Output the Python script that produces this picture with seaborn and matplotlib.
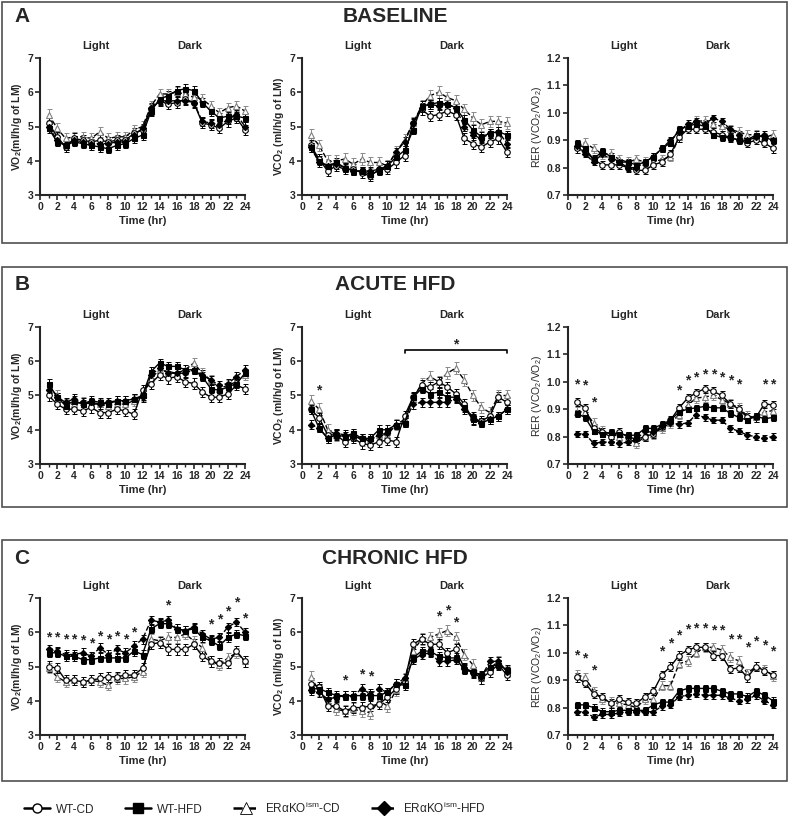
import numpy as np
import pandas as pd
import matplotlib
matplotlib.use("Agg")
import matplotlib.pyplot as plt
import seaborn as sns
from matplotlib.lines import Line2D
from matplotlib.patches import Rectangle

# hours 1..24
hours = list(range(1, 25))
groups = ["WT-CD", "WT-HFD", "ERαKO-CD", "ERαKO-HFD"]

# ---- BASELINE ----
vo2_base_wt_cd = [5.1, 4.7, 4.4, 4.65, 4.6, 4.55, 4.6, 4.55, 4.6, 4.6, 4.8, 4.9, 5.5, 5.75, 5.65, 5.7, 5.8, 5.7, 5.1, 5.05, 4.95, 5.15, 5.25, 4.9]
vo2_base_wt_hfd = [4.95, 4.55, 4.45, 4.55, 4.5, 4.45, 4.4, 4.35, 4.45, 4.5, 4.65, 4.75, 5.45, 5.8, 5.9, 6.05, 6.1, 6.05, 5.7, 5.45, 5.25, 5.3, 5.3, 5.25]
vo2_base_ko_cd = [5.35, 4.95, 4.65, 4.7, 4.7, 4.65, 4.85, 4.65, 4.7, 4.7, 4.9, 5.0, 5.6, 5.95, 5.95, 6.0, 5.95, 5.85, 5.8, 5.6, 5.4, 5.55, 5.6, 5.45]
vo2_base_ko_hfd = [5.0, 4.6, 4.45, 4.6, 4.55, 4.5, 4.5, 4.5, 4.55, 4.55, 4.75, 4.95, 5.55, 5.75, 5.75, 5.75, 5.75, 5.7, 5.15, 5.1, 5.05, 5.2, 5.35, 5.0]

vco2_base_wt_cd = [4.45, 4.05, 3.7, 3.85, 3.75, 3.75, 3.65, 3.55, 3.75, 3.75, 3.95, 4.15, 5.1, 5.5, 5.3, 5.35, 5.45, 5.35, 4.65, 4.5, 4.4, 4.55, 4.65, 4.25]
vco2_base_wt_hfd = [4.4, 4.0, 3.85, 3.95, 3.8, 3.7, 3.7, 3.6, 3.7, 3.85, 4.1, 4.3, 4.9, 5.6, 5.65, 5.7, 5.65, 5.55, 5.2, 4.9, 4.7, 4.8, 4.85, 4.75]
vco2_base_ko_cd = [4.75, 4.45, 4.0, 4.0, 4.05, 3.9, 4.05, 3.95, 3.95, 3.85, 4.25, 4.6, 5.1, 5.6, 5.9, 6.0, 5.85, 5.75, 5.5, 5.25, 5.05, 5.15, 5.15, 5.1]
vco2_base_ko_hfd = [4.4, 3.95, 3.85, 3.9, 3.8, 3.7, 3.7, 3.7, 3.75, 3.85, 4.25, 4.55, 5.1, 5.55, 5.65, 5.6, 5.65, 5.55, 5.0, 4.75, 4.65, 4.8, 4.85, 4.5]

rer_base_wt_cd = [0.87, 0.86, 0.83, 0.81, 0.81, 0.81, 0.80, 0.79, 0.79, 0.81, 0.82, 0.85, 0.91, 0.94, 0.94, 0.94, 0.93, 0.92, 0.91, 0.90, 0.89, 0.90, 0.89, 0.87]
rer_base_wt_hfd = [0.89, 0.87, 0.83, 0.86, 0.84, 0.82, 0.82, 0.81, 0.82, 0.84, 0.87, 0.89, 0.94, 0.95, 0.96, 0.95, 0.92, 0.91, 0.91, 0.90, 0.90, 0.92, 0.91, 0.90]
rer_base_ko_cd = [0.88, 0.89, 0.87, 0.85, 0.85, 0.83, 0.82, 0.83, 0.82, 0.82, 0.83, 0.84, 0.91, 0.95, 0.97, 0.97, 0.96, 0.95, 0.94, 0.93, 0.92, 0.92, 0.91, 0.92]
rer_base_ko_hfd = [0.88, 0.85, 0.82, 0.85, 0.83, 0.82, 0.80, 0.80, 0.82, 0.84, 0.87, 0.90, 0.93, 0.96, 0.97, 0.96, 0.98, 0.97, 0.94, 0.92, 0.90, 0.91, 0.92, 0.90]

# ---- ACUTE HFD ----
vo2_acute_wt_cd = [5.0, 4.75, 4.6, 4.6, 4.55, 4.65, 4.5, 4.5, 4.6, 4.55, 4.45, 5.15, 5.35, 5.6, 5.5, 5.55, 5.4, 5.35, 5.1, 4.95, 4.95, 5.05, 5.3, 5.2]
vo2_acute_wt_hfd = [5.35, 4.95, 4.7, 4.85, 4.75, 4.85, 4.8, 4.75, 4.85, 4.85, 4.9, 5.0, 5.7, 5.95, 5.85, 5.85, 5.75, 5.75, 5.55, 5.2, 5.15, 5.25, 5.35, 5.65]
vo2_acute_ko_cd = [5.25, 5.0, 4.75, 4.75, 4.8, 4.75, 4.75, 4.7, 4.75, 4.75, 4.85, 5.0, 5.5, 5.75, 5.7, 5.65, 5.75, 5.95, 5.65, 5.45, 5.2, 5.3, 5.4, 5.6]
vo2_acute_ko_hfd = [5.15, 4.95, 4.8, 4.9, 4.8, 4.8, 4.75, 4.8, 4.85, 4.85, 4.9, 4.95, 5.6, 5.8, 5.65, 5.65, 5.65, 5.75, 5.6, 5.45, 5.3, 5.35, 5.55, 5.75]

vco2_acute_wt_cd = [4.6, 4.35, 3.85, 3.85, 3.65, 3.75, 3.6, 3.55, 3.65, 3.7, 3.65, 4.4, 4.95, 5.3, 5.25, 5.4, 5.25, 5.05, 4.75, 4.3, 4.25, 4.4, 4.95, 4.8]
vco2_acute_wt_hfd = [4.6, 4.05, 3.75, 3.85, 3.8, 3.9, 3.75, 3.75, 4.0, 4.0, 4.15, 4.2, 4.95, 5.2, 5.05, 5.1, 4.95, 4.95, 4.65, 4.3, 4.2, 4.3, 4.4, 4.6]
vco2_acute_ko_cd = [4.85, 4.6, 4.0, 3.85, 3.75, 3.85, 3.7, 3.7, 3.85, 3.85, 4.15, 4.3, 4.9, 5.35, 5.55, 5.4, 5.65, 5.8, 5.45, 5.0, 4.65, 4.5, 5.0, 5.0]
vco2_acute_ko_hfd = [4.15, 4.05, 3.75, 3.9, 3.85, 3.8, 3.75, 3.7, 3.85, 3.9, 4.15, 4.2, 4.75, 4.8, 4.8, 4.8, 4.8, 4.9, 4.6, 4.4, 4.2, 4.3, 4.4, 4.6]

rer_acute_wt_cd = [0.925, 0.905, 0.83, 0.815, 0.80, 0.815, 0.80, 0.79, 0.80, 0.81, 0.835, 0.86, 0.905, 0.94, 0.96, 0.975, 0.965, 0.95, 0.92, 0.90, 0.87, 0.87, 0.92, 0.915]
rer_acute_wt_hfd = [0.885, 0.87, 0.82, 0.81, 0.815, 0.81, 0.805, 0.805, 0.83, 0.83, 0.845, 0.86, 0.89, 0.90, 0.905, 0.91, 0.905, 0.905, 0.885, 0.87, 0.86, 0.875, 0.865, 0.87]
rer_acute_ko_cd = [0.89, 0.89, 0.85, 0.82, 0.81, 0.80, 0.795, 0.775, 0.80, 0.81, 0.83, 0.85, 0.88, 0.915, 0.94, 0.945, 0.95, 0.935, 0.92, 0.905, 0.875, 0.87, 0.89, 0.895]
rer_acute_ko_hfd = [0.81, 0.81, 0.775, 0.78, 0.78, 0.775, 0.78, 0.79, 0.82, 0.815, 0.84, 0.85, 0.845, 0.85, 0.88, 0.87, 0.86, 0.86, 0.83, 0.82, 0.805, 0.80, 0.795, 0.80]

# ---- CHRONIC HFD ----
vo2_chronic_wt_cd = [5.0, 4.95, 4.6, 4.6, 4.55, 4.6, 4.65, 4.7, 4.7, 4.75, 4.75, 4.95, 5.65, 5.7, 5.5, 5.5, 5.5, 5.65, 5.3, 5.15, 5.1, 5.1, 5.45, 5.15]
vo2_chronic_wt_hfd = [5.4, 5.4, 5.3, 5.3, 5.2, 5.2, 5.25, 5.25, 5.25, 5.25, 5.45, 5.35, 6.1, 6.25, 6.25, 6.1, 6.05, 6.1, 5.85, 5.75, 5.6, 5.85, 5.95, 5.9]
vo2_chronic_ko_cd = [4.95, 4.7, 4.55, 4.6, 4.55, 4.6, 4.55, 4.45, 4.65, 4.65, 4.7, 4.85, 5.8, 5.75, 5.85, 5.85, 5.95, 5.75, 5.55, 5.15, 5.05, 5.25, 5.4, 5.15]
vo2_chronic_ko_hfd = [5.5, 5.45, 5.35, 5.35, 5.4, 5.3, 5.55, 5.35, 5.5, 5.4, 5.6, 5.8, 6.35, 6.3, 6.35, 6.1, 6.05, 6.15, 5.95, 5.8, 5.85, 6.15, 6.3, 6.0]

vco2_chronic_wt_cd = [4.5, 4.4, 3.85, 3.85, 3.7, 3.8, 3.8, 3.85, 3.9, 4.1, 4.35, 4.55, 5.65, 5.8, 5.65, 5.65, 5.4, 5.5, 4.95, 4.85, 4.65, 4.85, 5.05, 4.75]
vco2_chronic_wt_hfd = [4.35, 4.35, 4.25, 4.15, 4.15, 4.15, 4.15, 4.15, 4.15, 4.25, 4.5, 4.45, 5.25, 5.45, 5.45, 5.3, 5.25, 5.25, 4.9, 4.85, 4.75, 5.0, 5.05, 4.9]
vco2_chronic_ko_cd = [4.7, 4.3, 3.95, 3.75, 3.7, 3.75, 3.7, 3.65, 4.0, 3.85, 4.3, 4.65, 5.45, 5.8, 5.85, 5.95, 6.05, 5.85, 5.35, 5.05, 4.65, 4.95, 5.15, 4.85]
vco2_chronic_ko_hfd = [4.3, 4.25, 4.05, 4.1, 4.15, 4.15, 4.35, 4.2, 4.35, 4.25, 4.5, 4.65, 5.2, 5.35, 5.4, 5.15, 5.15, 5.2, 4.95, 4.8, 4.7, 5.15, 5.15, 4.85]

rer_chronic_wt_cd = [0.91, 0.89, 0.85, 0.84, 0.815, 0.83, 0.82, 0.815, 0.84, 0.86, 0.92, 0.95, 0.99, 1.01, 1.02, 1.02, 0.99, 0.99, 0.94, 0.945, 0.91, 0.95, 0.935, 0.92]
rer_chronic_wt_hfd = [0.81, 0.81, 0.80, 0.785, 0.785, 0.79, 0.79, 0.79, 0.79, 0.81, 0.82, 0.82, 0.86, 0.87, 0.87, 0.87, 0.87, 0.86, 0.85, 0.85, 0.84, 0.86, 0.845, 0.825]
rer_chronic_ko_cd = [0.92, 0.91, 0.86, 0.83, 0.82, 0.815, 0.81, 0.80, 0.83, 0.83, 0.88, 0.88, 0.96, 0.97, 1.0, 1.02, 1.02, 1.01, 0.985, 0.97, 0.925, 0.95, 0.94, 0.915]
rer_chronic_ko_hfd = [0.785, 0.785, 0.765, 0.775, 0.775, 0.78, 0.785, 0.785, 0.785, 0.785, 0.805, 0.81, 0.84, 0.845, 0.85, 0.845, 0.845, 0.845, 0.835, 0.825, 0.83, 0.845, 0.825, 0.81]

# SEM per group (WT-CD, WT-HFD, KO-CD, KO-HFD)
sem_vo2 = [0.15, 0.13, 0.15, 0.13]
sem_vco2 = [0.15, 0.13, 0.17, 0.13]
sem_rer = [0.015, 0.012, 0.017, 0.012]

# significance stars (hour, y)
star_acute_vco2_x = [2, 18]
star_acute_vco2_y = [5.15, 6.5]
star_acute_rer_x = [1, 2, 3, 13, 14, 15, 16, 17, 18, 19, 20, 23, 24]
star_acute_rer_y = [0.99, 0.985, 0.925, 0.97, 1.005, 1.015, 1.025, 1.025, 1.015, 1.005, 0.99, 0.99, 0.99]
star_chronic_vo2_x = [1, 2, 3, 4, 5, 6, 7, 8, 9, 10, 11, 15, 20, 21, 22, 23, 24]
star_chronic_vo2_y = [5.85, 5.85, 5.78, 5.78, 5.76, 5.66, 5.88, 5.78, 5.88, 5.78, 5.98, 6.78, 6.22, 6.38, 6.62, 6.88, 6.4]
star_chronic_vco2_x = [5, 7, 8, 16, 17, 18]
star_chronic_vco2_y = [4.6, 4.78, 4.7, 6.45, 6.65, 6.3]
star_chronic_rer_x = [1, 2, 3, 11, 12, 13, 14, 15, 16, 17, 18, 19, 20, 21, 22, 23, 24]
star_chronic_rer_y = [0.99, 0.98, 0.935, 1.005, 1.035, 1.065, 1.085, 1.09, 1.09, 1.08, 1.08, 1.05, 1.05, 1.02, 1.04, 1.025, 1.005]

W, H = 790, 825

sns.set_style("ticks")
plt.rcParams["font.family"] = ["Liberation Sans", "DejaVu Sans"]
plt.rcParams["mathtext.fontset"] = "custom"
plt.rcParams["mathtext.rm"] = "Liberation Sans"
plt.rcParams["mathtext.bf"] = "Liberation Sans:bold"
plt.rcParams["mathtext.it"] = "Liberation Sans:italic"
plt.rcParams["mathtext.default"] = "regular"

fig = plt.figure(figsize=(W / 100, H / 100), dpi=100)

# series styles
styles = [
    dict(marker="o", mfc="white", mec="black", ls="-", ecol="black", ms=4.0),
    dict(marker="s", mfc="black", mec="black", ls="-", ecol="black", ms=3.6),
    dict(marker="^", mfc="white", mec="#808080", ls="--", ecol="#8a8a8a", ms=4.0),
    dict(marker="D", mfc="black", mec="black", ls="--", ecol="black", ms=3.2),
]


def add_ax(left_px, top_px, w=205, h=137):
    return fig.add_axes([left_px / W, 1 - (top_px + h) / H, w / W, h / H])


def draw_panel(ax, series, sems, kind, stars_x=None, stars_y=None):
    for i in [2, 0, 3, 1]:
        st = styles[i]
        ax.errorbar(hours, series[i], yerr=sems[i], fmt="none", ecolor=st["ecol"],
                    elinewidth=0.7, capsize=1.8, capthick=0.7, zorder=2, clip_on=False)
        sns.lineplot(x=hours, y=series[i], ax=ax, color="black", linestyle=st["ls"],
                     linewidth=1.0, marker=st["marker"], markersize=st["ms"],
                     markerfacecolor=st["mfc"], markeredgecolor=st["mec"],
                     markeredgewidth=0.8, zorder=3, clip_on=False)
    ax.set_xlim(0, 24)
    ax.set_xticks(range(0, 25, 2))
    ax.set_xticks(range(0, 25, 1), minor=True)
    if kind == "rer":
        ax.set_ylim(0.7, 1.2)
        ax.set_yticks([0.7, 0.8, 0.9, 1.0, 1.1, 1.2])
        ax.set_yticklabels(["0.7", "0.8", "0.9", "1.0", "1.1", "1.2"])
        ax.set_ylabel("RER (VCO$_2$/VO$_2$)", fontsize=7.5, labelpad=2)
    else:
        ax.set_ylim(3, 7)
        ax.set_yticks([3, 4, 5, 6, 7])
        if kind == "vo2":
            ax.set_ylabel("VO$_2$(ml/h/g of LM)", fontsize=7.5, fontweight="bold", labelpad=2)
        else:
            ax.set_ylabel("VCO$_2$ (ml/h/g of LM)", fontsize=7.5, fontweight="bold", labelpad=2)
    ax.set_xlabel("Time (hr)", fontsize=8, fontweight="bold", labelpad=3)
    ax.tick_params(axis="both", which="major", length=3.5, width=1.2, labelsize=7.5, pad=1.5)
    ax.tick_params(axis="x", which="minor", length=2, width=1.0)
    for lab in ax.get_xticklabels() + ax.get_yticklabels():
        lab.set_fontweight("bold")
    for s in ["left", "bottom"]:
        ax.spines[s].set_linewidth(1.5)
    sns.despine(ax=ax)
    ax.text(6.5, 1.085, "Light", transform=ax.get_xaxis_transform(), ha="center",
            va="center", fontsize=8, fontweight="bold")
    ax.text(17.5, 1.085, "Dark", transform=ax.get_xaxis_transform(), ha="center",
            va="center", fontsize=8, fontweight="bold")
    if stars_x is not None:
        for sx, sy in zip(stars_x, stars_y):
            ax.text(sx, sy, "*", ha="center", va="center", fontsize=10, fontweight="bold")


rows = [
    ("BASELINE", "A", 58, 2, 243, 17,
     [[vo2_base_wt_cd, vo2_base_wt_hfd, vo2_base_ko_cd, vo2_base_ko_hfd],
      [vco2_base_wt_cd, vco2_base_wt_hfd, vco2_base_ko_cd, vco2_base_ko_hfd],
      [rer_base_wt_cd, rer_base_wt_hfd, rer_base_ko_cd, rer_base_ko_hfd]],
     [(None, None), (None, None), (None, None)]),
    ("ACUTE HFD", "B", 327, 267, 507, 285,
     [[vo2_acute_wt_cd, vo2_acute_wt_hfd, vo2_acute_ko_cd, vo2_acute_ko_hfd],
      [vco2_acute_wt_cd, vco2_acute_wt_hfd, vco2_acute_ko_cd, vco2_acute_ko_hfd],
      [rer_acute_wt_cd, rer_acute_wt_hfd, rer_acute_ko_cd, rer_acute_ko_hfd]],
     [(None, None), (star_acute_vco2_x, star_acute_vco2_y), (star_acute_rer_x, star_acute_rer_y)]),
    ("CHRONIC HFD", "C", 598, 540, 781, 558,
     [[vo2_chronic_wt_cd, vo2_chronic_wt_hfd, vo2_chronic_ko_cd, vo2_chronic_ko_hfd],
      [vco2_chronic_wt_cd, vco2_chronic_wt_hfd, vco2_chronic_ko_cd, vco2_chronic_ko_hfd],
      [rer_chronic_wt_cd, rer_chronic_wt_hfd, rer_chronic_ko_cd, rer_chronic_ko_hfd]],
     [(star_chronic_vo2_x, star_chronic_vo2_y), (star_chronic_vco2_x, star_chronic_vco2_y),
      (star_chronic_rer_x, star_chronic_rer_y)]),
]

lefts = [40, 302, 568]
kinds = ["vo2", "vco2", "rer"]
sems = [sem_vo2, sem_vco2, sem_rer]

for title, letter, top, box_top, box_bot, title_y, data, stars in rows:
    # panel frame
    fig.patches.append(Rectangle((2 / W, 1 - box_bot / H), 785 / W, (box_bot - box_top) / H,
                                 transform=fig.transFigure, fill=False,
                                 edgecolor="#505050", linewidth=1.2))
    fig.text(395 / W, 1 - title_y / H, title, ha="center", va="center",
             fontsize=15, fontweight="bold")
    fig.text(22 / W, 1 - title_y / H, letter, ha="center", va="center",
             fontsize=15, fontweight="bold")
    for j in range(3):
        ax = add_ax(lefts[j], top)
        draw_panel(ax, data[j], sems[j], kinds[j], stars[j][0], stars[j][1])
        if title == "ACUTE HFD" and j == 1:
            # bracket over the dark phase
            ax.plot([12, 12, 24, 24], [6.25, 6.33, 6.33, 6.25], color="black",
                    linewidth=1.2, clip_on=False)

# legend
handles = [
    Line2D([], [], color="black", ls="-", lw=1.8, marker="o", ms=6.5, mfc="white", mec="black"),
    Line2D([], [], color="black", ls="-", lw=1.8, marker="s", ms=6.5, mfc="black", mec="black"),
    Line2D([], [], color="black", ls="--", lw=1.8, marker="^", ms=9, mfc="white", mec="black", mew=0.6),
    Line2D([], [], color="black", ls="--", lw=1.8, marker="D", ms=7, mfc="black", mec="black"),
]
labels = ["WT-CD", "WT-HFD", "ERαKO$^{ism}$-CD", "ERαKO$^{ism}$-HFD"]
fig.legend(handles, labels, loc="center", bbox_to_anchor=(255 / W, 1 - 808 / H),
           ncol=4, frameon=False, fontsize=8.5, handlelength=2.2, columnspacing=2.6,
           handletextpad=0.5)

fig.savefig("out.png", dpi=100)
